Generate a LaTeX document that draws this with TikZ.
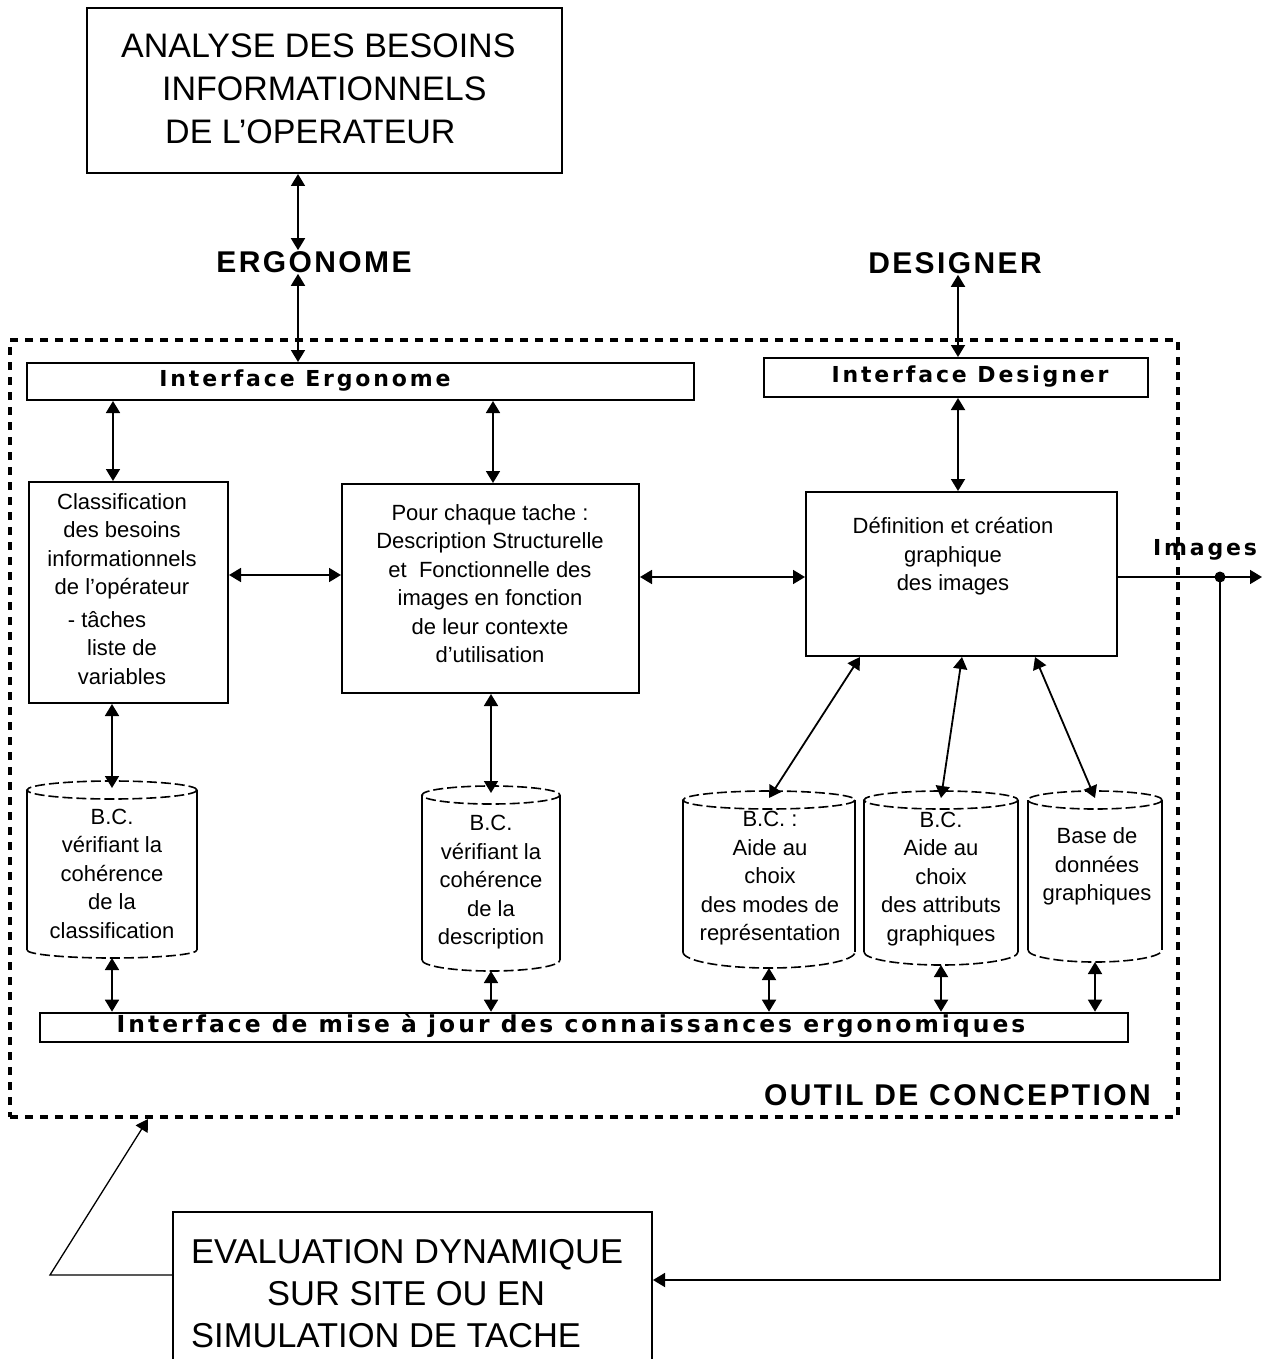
\documentclass[tikz,border=0pt]{standalone}
\usepackage{fontspec}
\setmainfont{Liberation Sans}
\newfontfamily\chic[LetterSpace=13]{DejaVu Sans}
\newfontfamily\outl[LetterSpace=8]{Liberation Sans}
\usetikzlibrary{arrows.meta}
\newcommand\dbcyl[6]{%
  \pgfmathsetmacro\cxm{(#2+#3)/2}%
  \pgfmathsetmacro\crx{(#3-#2)/2}%
  \draw[cylside] (#2,#4) -- (#2,#5) (#3,#4) -- (#3,#5);
  \draw[cyldash] (\cxm,#4) ellipse [x radius=\crx, y radius=9];
  \draw[cyldash] (#2,#5) arc[start angle=180,end angle=0,x radius=\crx,y radius=#6];
  \coordinate (#1-t) at (\cxm,#4-2);
  \coordinate (#1-b) at (\cxm,#5+#6);
}
\tikzset{
  box/.style={draw, line width=2pt, inner sep=0pt},
  txt/.style={font=\fontsize{22}{28.5}\selectfont, align=center, inner sep=0pt},
  itext/.style={font=\chic\bfseries\fontsize{22}{28}\selectfont, inner sep=0pt},
  lbl/.style={font=\outl\bfseries\fontsize{30}{36}\selectfont, inner sep=1pt},
  frame/.style={draw, line width=4pt, dash pattern=on 8pt off 7pt, inner sep=0pt},
  cylside/.style={line width=1.8pt},
  cyldash/.style={line width=1.6pt, dash pattern=on 10pt off 4pt},
  tip/.tip={Triangle[width=14pt,length=12pt]},
  biarrow/.style={line width=1.8pt, tip-tip},
  onearrow/.style={line width=1.8pt, -tip},
  thinarrow/.style={line width=1.3pt, -tip},
}
\begin{document}
\begin{tikzpicture}[x=1pt,y=-1pt]
\useasboundingbox (0,0) rectangle (1267,1359);

% top box
\node[box, minimum width=475pt, minimum height=165pt] (top) at (324.5,90.5) {};
\node[txt, font=\fontsize{34}{43}\selectfont, align=left, anchor=west] (toptxt) at (121,88.5)
      {ANALYSE DES BESOINS\\\hspace*{41pt}INFORMATIONNELS\\\hspace*{44pt}DE L'OPERATEUR};

% actor labels
\node[lbl] (ergo) at (314,262) {ERGONOME};
\node[lbl] (desig) at (955,263) {DESIGNER};

% outer frame
\node[frame, minimum width=1168pt, minimum height=777pt] (frame) at (594,728.5) {};
\node[lbl, anchor=east] (outil) at (1152,1095) {OUTIL DE CONCEPTION};

% interfaces
\node[box, minimum width=667pt, minimum height=37pt] (ie) at (360.5,381.5) {};
\node[itext] (ietxt) at (305,381) {Interface Ergonome};
\node[box, minimum width=384pt, minimum height=39pt] (id) at (956,377.5) {};
\node[itext] (idtxt) at (970,377) {Interface Designer};
\node[box, line width=2.6pt, minimum width=1088pt, minimum height=29pt] (im) at (584,1027.5) {};
\node[itext, font=\chic\bfseries\fontsize{23.4}{28}\selectfont] (imtxt) at (571,1026) {Interface de mise à jour des connaissances ergonomiques};

% main boxes
\node[box, minimum width=199pt, minimum height=221pt] (cls) at (128.5,592.5) {};
\node[txt] (clstxt) at (122,589) {Classification\\des besoins\\informationnels\\de l'opérateur\\[4pt]\hspace*{-30pt}- tâches\\liste de\\variables};
\node[box, minimum width=297pt, minimum height=209pt] (pour) at (490.5,588.5) {};
\node[txt] (pourtxt) at (490,583.5) {Pour chaque tache :\\Description Structurelle\\et\ \ Fonctionnelle des\\images en fonction\\de leur contexte\\d'utilisation};
\node[box, minimum width=311pt, minimum height=164pt] (def) at (961.5,574) {};
\node[txt] (deftxt) at (953,556.5) {Définition et création\\graphique\\des images};

% bottom evaluation box
\node[box, minimum width=479pt, minimum height=160pt] (eval) at (412.5,1292) {};
\node[txt, font=\fontsize{34.5}{42}\selectfont, align=left, anchor=west] (evaltxt) at (191,1294)
  {EVALUATION DYNAMIQUE\\\hspace*{76pt}SUR SITE OU EN\\SIMULATION DE TACHE};

% cylinders
\dbcyl{c1}{27}{197}{790}{950}{8}
\dbcyl{c2}{422}{560}{795}{960}{11}
\dbcyl{c3}{683}{855}{800}{952}{16}
\dbcyl{c4}{864}{1018}{800}{952}{13}
\dbcyl{c5}{1028}{1162}{800}{950}{12}
\node[txt] (c1txt) at (112,873.5) {B.C.\\vérifiant la\\cohérence\\de la\\classification};
\node[txt] (c2txt) at (491,882.5) {B.C.\\vérifiant la\\cohérence\\de la\\description};
\node[txt] (c3txt) at (770,878.5) {B.C. :\\Aide au\\choix\\des modes de\\représentation};
\node[txt] (c4txt) at (941,879) {B.C.\\Aide au\\choix\\des attributs\\graphiques};
\node[txt] (c5txt) at (1097,866.5) {Base de\\données\\graphiques};

% connectors top
\draw[biarrow] ([xshift=-16pt]ergo.north |- top.south) -- ([xshift=-16pt]ergo.north);
\draw[biarrow] ([xshift=-16pt]ergo.south) -- ([xshift=-16pt]ergo.south |- ie.north);
\draw[biarrow] ([xshift=3pt]desig.south) -- ([xshift=3pt]desig.south |- id.north);

\draw[biarrow] ([xshift=-15.5pt]cls.north |- ie.south) -- ([xshift=-15.5pt]cls.north);
\draw[biarrow] ([xshift=2.5pt]pour.north |- ie.south) -- ([xshift=2.5pt]pour.north);
\draw[biarrow] ([xshift=-3.5pt]def.north |- id.south) -- ([xshift=-3.5pt]def.north);

\draw[biarrow] ([yshift=17.5pt]cls.east) -- ([yshift=17.5pt]cls.east -| pour.west);
\draw[biarrow] ([yshift=11.5pt]pour.east) -- ([yshift=11.5pt]pour.east -| def.west);

% boxes to cylinders
\draw[biarrow] (cls.south -| c1-t) -- (c1-t);
\draw[biarrow] (pour.south -| c2-t) -- (c2-t);
\draw[biarrow] ([xshift=-101.5pt]def.south) -- (c3-t);
\draw[biarrow] ([xshift=0.5pt]def.south) -- (c4-t);
\draw[biarrow] ([xshift=73.5pt]def.south) -- (c5-t);

% cylinders to update interface
\foreach \c in {c1,c2,c3,c4,c5}{
  \draw[biarrow] (\c-b) -- (\c-b |- im.north);
}

% images output and feedback
\coordinate (imgend) at (1262,577);
\coordinate (dot) at (1220,577);
\coordinate (fb) at (1220,1280);
\draw[onearrow] ([yshift=-3pt]def.east) -- (imgend);
\node[itext] (imgtxt) at (1205,550) {Images};
\fill (dot) circle (5.5pt);
\draw[onearrow] (dot) -- (fb) -- (fb -| eval.east);

% evaluation back to the tool
\coordinate (lc) at (50,1275);
\coordinate (fr) at (148,1119);
\draw[thinarrow] ([yshift=17pt]eval.west) -- (lc) -- (fr);
\end{tikzpicture}
\end{document}
